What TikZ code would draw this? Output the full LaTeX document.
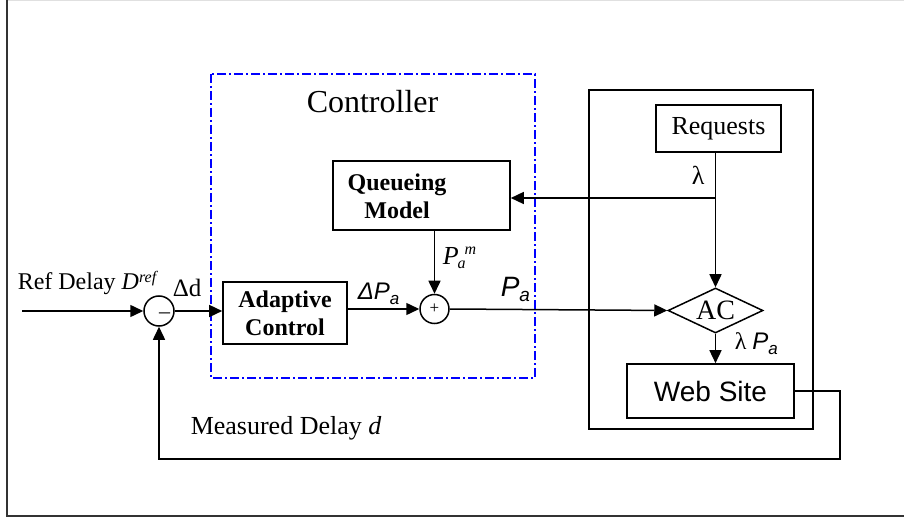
\documentclass[tikz,border=0pt]{standalone}
\usepackage{fontspec}
\setmainfont{Liberation Serif}
\newfontfamily\arial{Liberation Sans}
\usetikzlibrary{arrows.meta,shapes.geometric}

\newcommand{\fs}[1]{\fontsize{#1bp}{1.15\dimexpr#1bp\relax}\selectfont}

\begin{document}
\begin{tikzpicture}[x=1bp,y=-1bp,line width=1.5bp,
  arr/.style={-{Triangle[length=13bp,width=12bp]}},
  blk/.style={draw,rectangle,inner sep=0pt,line width=1.6bp},
  junction/.style={draw,circle,inner sep=0pt,minimum size=#1,line width=1.5bp},
  lbl/.style={inner sep=0pt,anchor=base west},
  ctrlbox/.style={draw=blue,line width=1.5bp,
    dash pattern=on 9bp off 3bp on 2bp off 3bp}]

% page frame
\useasboundingbox (0,0) rectangle (904,518);
\draw[black!12,line width=1bp] (7,0.5) -- (904,0.5);
\draw[black!80,line width=1.6bp] (7,0) -- (7,516) -- (904,516);

% controller region
\draw[ctrlbox] (211,74) rectangle (535,378);
\node[lbl,font=\fs{32}] (ctrl) at (306,113) {Controller};

% plant region
\draw[line width=1.6bp] (589,90) rectangle (813,429);

% blocks
\node[blk,minimum width=124bp,minimum height=62bp] (adapt) at (285,313) {};
\node[font=\fs{24}\bfseries,align=center,inner sep=0pt] (adapttxt) at (adapt) {Adaptive\\Control};
\node[blk,minimum width=177bp,minimum height=69bp] (queue) at (421.5,195.5) {};
\node[font=\fs{24}\bfseries,align=center,inner sep=0pt] (queuetxt) at (397,196) {Queueing\\Model};
\node[blk,minimum width=125bp,minimum height=47bp] (req) at (718.5,128.5) {};
\node[font=\fs{26}] (reqtxt) at (req) {Requests};
\node[diamond,draw,inner sep=0pt,minimum width=95bp,minimum height=45bp,line width=1.5bp] (ac) at (715.5,310.5) {};
\node[font=\fs{28}] (actxt) at (ac) {AC};
\node[blk,minimum width=167bp,minimum height=54bp] (web) at (710.5,391) {};
\node[font=\fs{28}\arial] (webtxt) at (web) {Web Site};

% summing junctions
\node[junction=30bp] (sumA) at (159,311) {};
\node[inner sep=0pt,font=\fs{22}] (minus) at (164.5,316) {–};
\node[junction=29bp] (sumB) at (434.5,309) {};
\node[inner sep=0pt,font=\fs{17}] (plus) at (sumB) {+};

% signal connectors
\coordinate (refin) at (22,311);
\draw[arr] (refin) -- (sumA.west);
\draw[arr] (sumA.east) -- (sumA.east -| adapt.west);
\draw[arr] (adapt.east |- sumB) -- (sumB.west);
\draw[arr] (sumB.north |- queue.south) -- (sumB.north);
\draw[arr] (sumB.east) -- (ac.west);
\draw[arr] (ac.north |- req.south) -- (ac.north);
\coordinate (lamsplit) at (715.5,198);
\draw[arr] (lamsplit) -- (lamsplit -| queue.east);
\draw[arr] (ac.south) -- (ac.south |- web.north);
\coordinate (fbcorner) at (840,459);
\draw[arr] (web.east) -| (fbcorner) -| (sumA.south);

% signal labels
\node[lbl,font=\fs{24}] (reflbl) at (17,290) {Ref Delay \textit{D}\raisebox{7bp}{\fs{16}\textit{ref}}};
\node[lbl,font=\fs{25}] (dlbl) at (172,297) {Δd};
\node[lbl,font=\fs{24}\arial\itshape] (dplbl) at (357,300) {ΔP\raisebox{-5bp}{\fs{17}a}};
\node[lbl,font=\fs{26}] (pmlbl) at (442,265) {\textit{P}\hspace{-1bp}\rlap{\raisebox{-4bp}{\fs{16}\textit{a}}}\hspace{7bp}\raisebox{10bp}{\fs{16}\textit{m}}};
\node[lbl,font=\fs{28}\arial\itshape] (palbl) at (500,297) {P\raisebox{-5bp}{\fs{19}a}};
\node[lbl,font=\fs{26}] (lamlbl) at (691,185) {λ};
\node[lbl,font=\fs{24}] (lplbl) at (734,350) {λ {\arial\itshape P\raisebox{-5bp}{\fs{17}a}}};
\node[lbl,font=\fs{26}] (mdlbl) at (190,434) {Measured Delay \textit{d}};
\end{tikzpicture}
\end{document}
